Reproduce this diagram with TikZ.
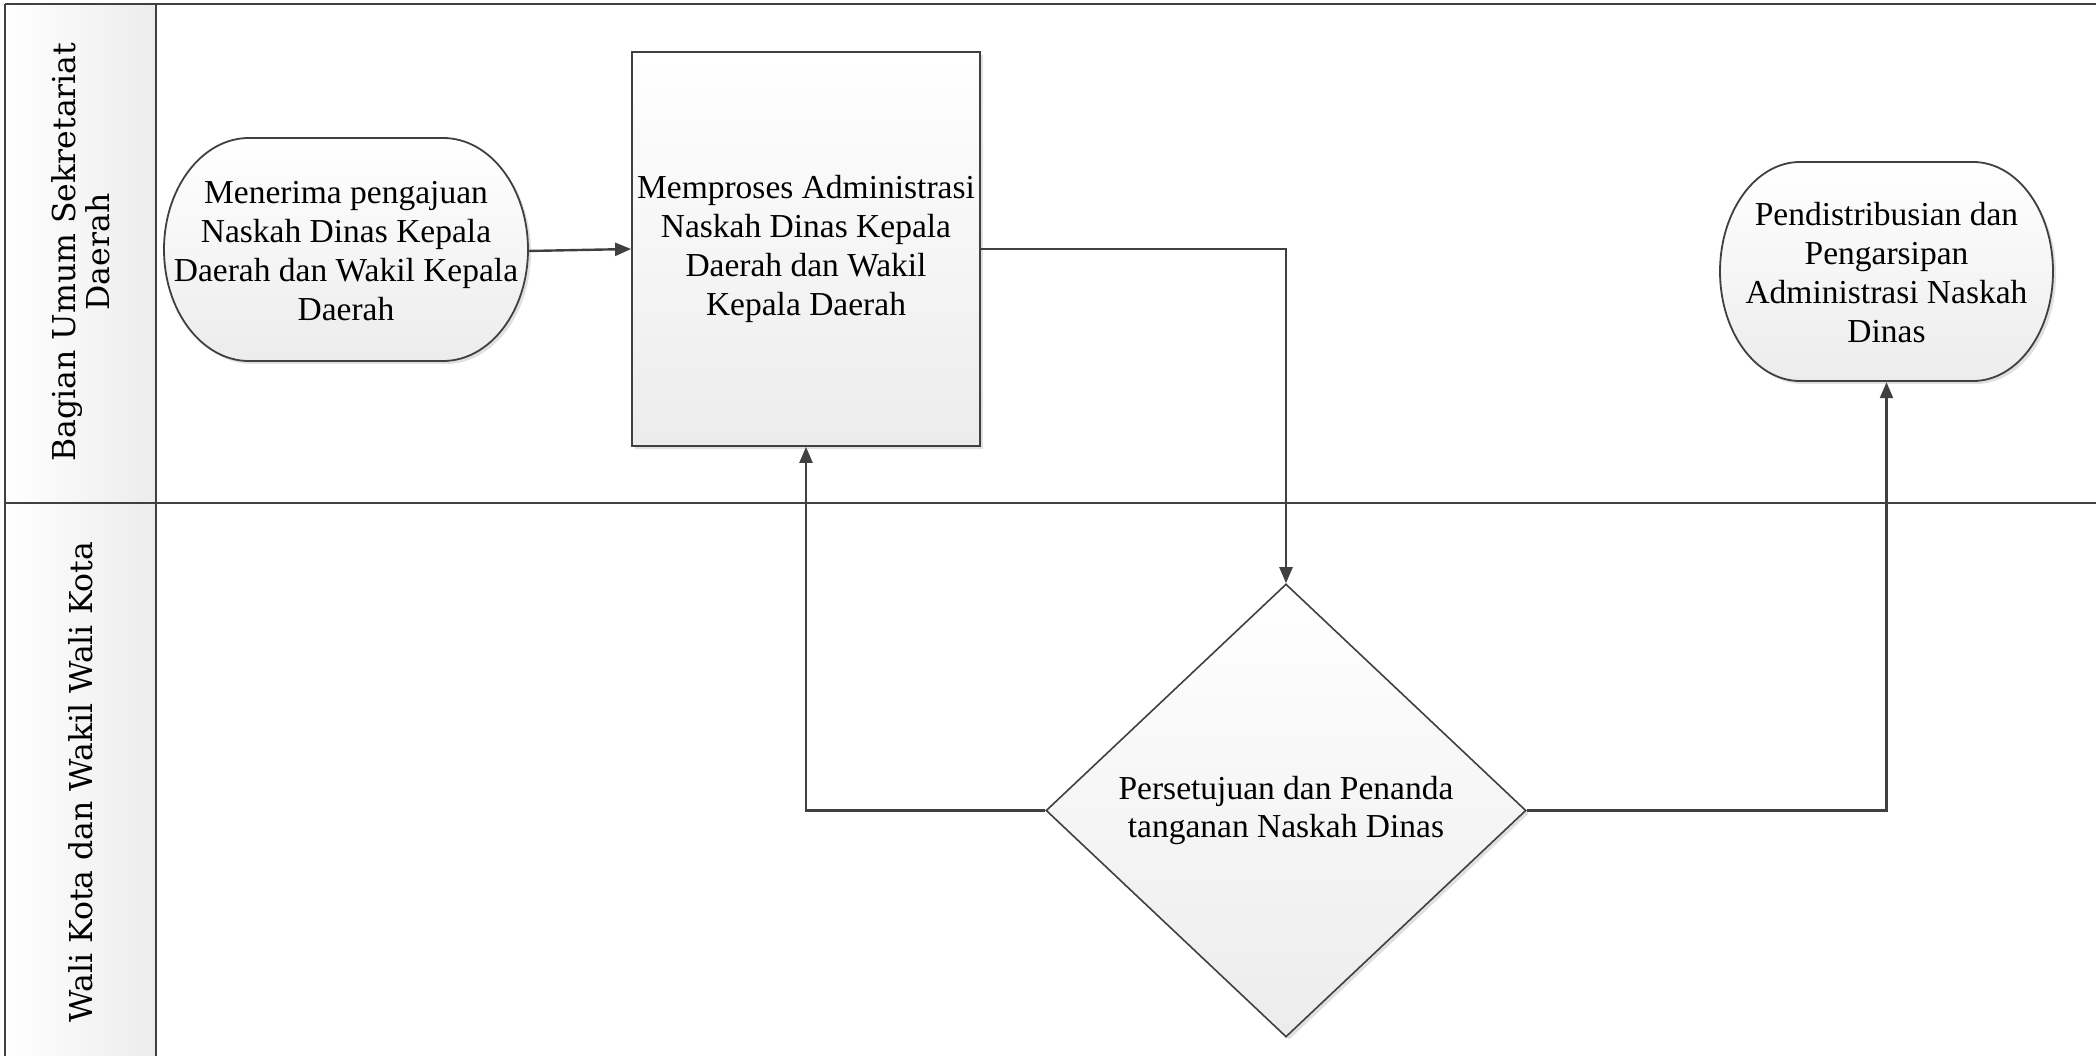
\documentclass[tikz,border=0pt]{standalone}
\usepackage{fontspec}
\setmainfont{Liberation Serif}
\newfontfamily\lanefont{DejaVu Serif}
\usetikzlibrary{shapes.geometric,arrows.meta,shadows}
\definecolor{ln}{HTML}{404040}
\definecolor{shadeg}{HTML}{ECECEC}
\newcommand\nodetxt{\fontsize{33.5}{38.8}\selectfont}
\newcommand\lanetxt{\lanefont\fontsize{31.5}{34}\selectfont}
% terminator outline: x0,y0,x1,y1,rx
\newcommand\termshape[5]{%
  \pgfmathsetmacro\tmA{#1+#5}\pgfmathsetmacro\tmB{#3-#5}%
  \pgfmathsetmacro\tmM{(#2+#4)/2}\pgfmathsetmacro\tmR{(#4-#2)/2*0.5523}%
  \pgfmathsetmacro\tmK{#5*0.5523}%
  \path[termfill] (\tmA,#2) -- (\tmB,#2)
    .. controls ({\tmB+\tmK},#2) and (#3,{\tmM-\tmR}) .. (#3,\tmM)
    .. controls (#3,{\tmM+\tmR}) and ({\tmB+\tmK},#4) .. (\tmB,#4)
    -- (\tmA,#4)
    .. controls ({\tmA-\tmK},#4) and (#1,{\tmM+\tmR}) .. (#1,\tmM)
    .. controls (#1,{\tmM-\tmR}) and ({\tmA-\tmK},#2) .. (\tmA,#2) -- cycle;
}
\begin{document}
\begin{tikzpicture}[x=1pt,y=-1pt,
  lane/.style={draw=ln, line width=2pt},
  lanelabel/.style={font=\lanetxt, align=center, text=black, inner sep=0pt},
  soft/.style={drop shadow={shadow xshift=3pt, shadow yshift=-3pt, fill=black, opacity=0.12}},
  termfill/.style={draw=ln, line width=1.8pt, top color=white, bottom color=shadeg, soft},
  termtext/.style={rectangle, inner sep=0pt, font=\nodetxt, align=center, text=black},
  procbox/.style={rectangle, draw=ln, line width=1.8pt, top color=white, bottom color=shadeg, soft, inner sep=0pt, font=\nodetxt, align=center, text=black},
  decision/.style={diamond, draw=ln, line width=1.6pt, top color=white, bottom color=shadeg, soft, inner sep=0pt, font=\nodetxt, align=center, text=black},
  flow/.style={draw=ln, line width=2.4pt, -{Triangle[length=16pt,width=13pt]}}
]
\useasboundingbox (0,0) rectangle (2096,1056);
% swimlane header column
\fill[left color=white, right color=shadeg] (5,4) rectangle (156,1056);
\draw[lane] (5,4) -- (2096,4);
\draw[lane] (5,503) -- (2096,503);
\draw[lane] (5,4) -- (5,1056);
\draw[lane] (156,4) -- (156,1056);
\node[lanelabel, rotate=90] (lane1) at (81,252) {Bagian Umum Sekretariat\\Daerah};
\node[lanelabel, rotate=90] (lane2) at (81,782) {Wali Kota dan Wakil Wali Kota};

% start terminator
\termshape{164}{138}{528}{361}{85}
\node[termtext, minimum width=364pt, minimum height=223pt] (start) at (346,251)
  {Menerima pengajuan\\Naskah Dinas Kepala\\Daerah dan Wakil Kepala\\Daerah};

% process
\node[procbox, minimum width=348pt, minimum height=394pt] (proc) at (806,249)
  {Memproses Administrasi\\Naskah Dinas Kepala\\Daerah dan Wakil\\Kepala Daerah};

% decision
\node[decision, minimum width=480pt, minimum height=453pt] (dec) at (1286,810.5)
  {Persetujuan dan Penanda\\tanganan Naskah Dinas};

% end terminator
\termshape{1720}{162}{2053}{381}{80}
\node[termtext, minimum width=333pt, minimum height=219pt] (finish) at (1886.5,272.5)
  {Pendistribusian dan\\Pengarsipan\\Administrasi Naskah\\Dinas};

% connectors
\draw[flow] (start.east) -- (proc.west);
\draw[flow] (proc.east) -| (dec.north);
\draw[flow] (dec.west) -| (proc.south);
\draw[flow] (dec.east) -| (finish.south);
\end{tikzpicture}
\end{document}
